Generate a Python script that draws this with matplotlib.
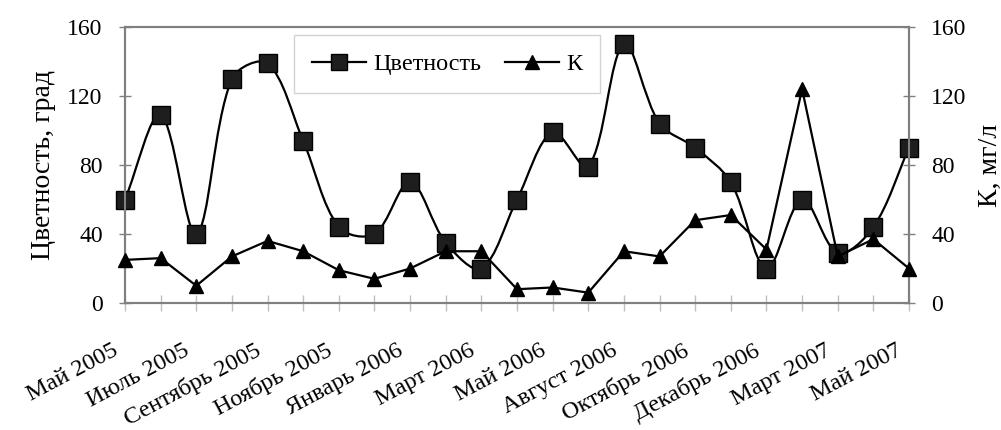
import matplotlib
matplotlib.use('Agg')
import matplotlib.pyplot as plt
from matplotlib.path import Path
from matplotlib.patches import PathPatch
from matplotlib.lines import Line2D
import matplotlib.transforms as mtransforms
import numpy as np

plt.rcParams['font.family'] = ['Liberation Serif', 'DejaVu Serif']

# categories (every other one labelled)
tick_labels = ['Май 2005', '', 'Июль 2005', '', 'Сентябрь 2005', '', 'Ноябрь 2005', '',
               'Январь 2006', '', 'Март 2006', '', 'Май 2006', '', 'Август 2006', '',
               'Октябрь 2006', '', 'Декабрь 2006', '', 'Март 2007', '', 'Май 2007']
color_vals = [60, 109, 40, 130, 139, 94, 44, 40, 70, 35, 20, 60, 99, 79, 150, 104,
              90, 70, 20, 60, 29, 44, 90]
k_vals = [25, 26, 10, 27, 36, 30, 19, 14, 20, 30, 30, 8, 9, 6, 30, 27,
          48, 51, 31, 124, 27, 37, 20]

FS = 17
GRAY = '#808080'

fig = plt.figure(figsize=(10.01, 4.30), dpi=100)
ax = fig.add_axes([125/1001, 1-303/430, 784/1001, 276/430])
ax2 = ax.twinx()

x = np.arange(len(color_vals), dtype=float)
y = np.array(color_vals, dtype=float)

# Excel-like smoothed line: Bezier with chord-length scaled tangents (screen units)
ysc = (276/160) / (784/(len(x)-1))   # y data unit relative to x unit on screen
P = np.column_stack([x, y * ysc])
n = len(P)
def dist(a, b):
    return float(np.hypot(*(P[a] - P[b])))
verts = [(x[0], y[0])]
codes = [Path.MOVETO]
for i in range(n - 1):
    i0, i1, i2, i3 = max(i-1, 0), i, i+1, min(i+2, n-1)
    d01, d12, d23 = dist(i0, i1), dist(i1, i2), dist(i2, i3)
    f1 = d12 / (3 * (d01 + d12)) if d01 + d12 > 0 else 0
    f2 = d12 / (3 * (d12 + d23)) if d12 + d23 > 0 else 0
    c1 = P[i1] + (P[i2] - P[i0]) * f1
    c2 = P[i2] - (P[i3] - P[i1]) * f2
    for c in (c1, c2, P[i2]):
        verts.append((c[0], c[1] / ysc))
        codes.append(Path.CURVE4)
ax.add_patch(PathPatch(Path(verts, codes), fill=False, edgecolor='black', lw=1.6,
                       zorder=3, clip_on=False))
ax.plot(x, y, ls='none', marker='s', ms=12.5, mfc='#1e1e1e', mec='black', mew=1.0,
        zorder=4, clip_on=False)

ax2.plot(x, k_vals, color='black', lw=1.6, marker='^', ms=10.5, mfc='black', mec='black',
         zorder=4, clip_on=False)

for a in (ax, ax2):
    a.set_xlim(0, len(x) - 1)
    a.set_ylim(0, 160)
    a.set_yticks([0, 40, 80, 120, 160])
    for s in a.spines.values():
        s.set_color(GRAY)
        s.set_linewidth(1.5)

ax.set_xticks(x)
ax.set_xticklabels(tick_labels, rotation=28, ha='right', va='top', rotation_mode='anchor',
                   fontsize=17.5)
ax.tick_params(axis='x', direction='inout', length=11, color='#c0c0c0', width=1, pad=21)
ax.tick_params(axis='y', direction='inout', length=8, color=GRAY, width=1,
               labelsize=FS, pad=12)
ax2.tick_params(axis='y', direction='inout', length=8, color=GRAY, width=1,
                labelsize=FS, pad=12)

offset = mtransforms.ScaledTranslation(-13/100, 0, fig.dpi_scale_trans)
for lbl in ax.get_xticklabels():
    lbl.set_transform(lbl.get_transform() + offset)

ax.set_ylabel('Цветность, град', fontsize=20, labelpad=8)
ax2.set_ylabel('К, мг/л', fontsize=20, labelpad=8)

h1 = Line2D([], [], color='black', lw=1.6, marker='s', ms=11, mfc='#1e1e1e', mec='black')
h2 = Line2D([], [], color='black', lw=1.6, marker='^', ms=10, mfc='black', mec='black')
leg = ax2.legend([h1, h2], ['Цветность', 'К'], ncol=2, loc='upper left',
                 bbox_to_anchor=(294/1001, 1-35/430), bbox_transform=fig.transFigure,
                 borderaxespad=0, fontsize=17.5, frameon=True, fancybox=False,
                 handlelength=2.2, handletextpad=0.3, columnspacing=1.0,
                 borderpad=0.75)
leg.get_frame().set_edgecolor('#c8c8c8')
leg.get_frame().set_linewidth(1.0)

fig.savefig('out.png', dpi=100)
